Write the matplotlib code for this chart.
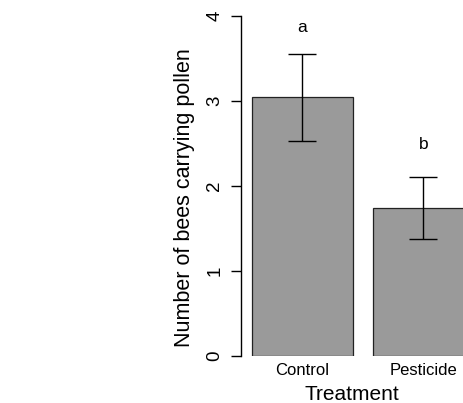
import matplotlib
matplotlib.use("Agg")
import matplotlib.pyplot as plt

plt.rcParams['font.family'] = ['Liberation Sans', 'DejaVu Sans']

# data
treatments = ["Control", "Pesticide"]
means = [3.04, 1.74]
err_low = [2.53, 1.37]
err_high = [3.55, 2.10]
letters = ["a", "b"]
letter_y = [3.86, 2.48]

# R style barplot positions: width 1, space 0.2
centers = [0.7, 1.9]

fig = plt.figure(figsize=(4.64, 4.03), dpi=100)
# axes placed so that x-axis line sits at px 240.7 and y 0..4 spans px 355.7..15.7
ax = fig.add_axes([240.7 / 464, (403 - 355.7) / 403, (464 - 240.7) / 464, 340 / 403])

yerr = [[m - lo for m, lo in zip(means, err_low)],
        [hi - m for m, hi in zip(means, err_high)]]
ax.bar(centers, means, width=1.0, color="#9a9a9a", edgecolor="#222222", linewidth=0.9)
ax.errorbar(centers, means, yerr=yerr, fmt="none", ecolor="black",
            elinewidth=1.0, capsize=10, capthick=1.0)
for c, lab, ly in zip(centers, letters, letter_y):
    ax.text(c, ly, lab, ha="center", va="center", fontsize=12.5)

ax.set_xlim(0.089, 2.304)
ax.set_ylim(0, 4)
ax.set_yticks([0, 1, 2, 3, 4])
ax.set_yticklabels(["0", "1", "2", "3", "4"], rotation=90, va="center")
ax.set_xticks(centers)
ax.set_xticklabels(treatments)
ax.tick_params(axis="y", length=7.5, width=1.0, pad=5, labelsize=13.5)
ax.tick_params(axis="x", length=0, pad=5, labelsize=12)

for s in ["top", "right", "bottom"]:
    ax.spines[s].set_visible(False)
ax.spines["left"].set_bounds(0, 4)
ax.spines["left"].set_linewidth(1.0)

ax.set_ylabel("Number of bees carrying pollen", fontsize=15.5)
ax.yaxis.set_label_coords(-0.205, 0.465)
ax.set_xlabel("Treatment", fontsize=15, labelpad=5.5)

fig.savefig("out.png", dpi=100)
